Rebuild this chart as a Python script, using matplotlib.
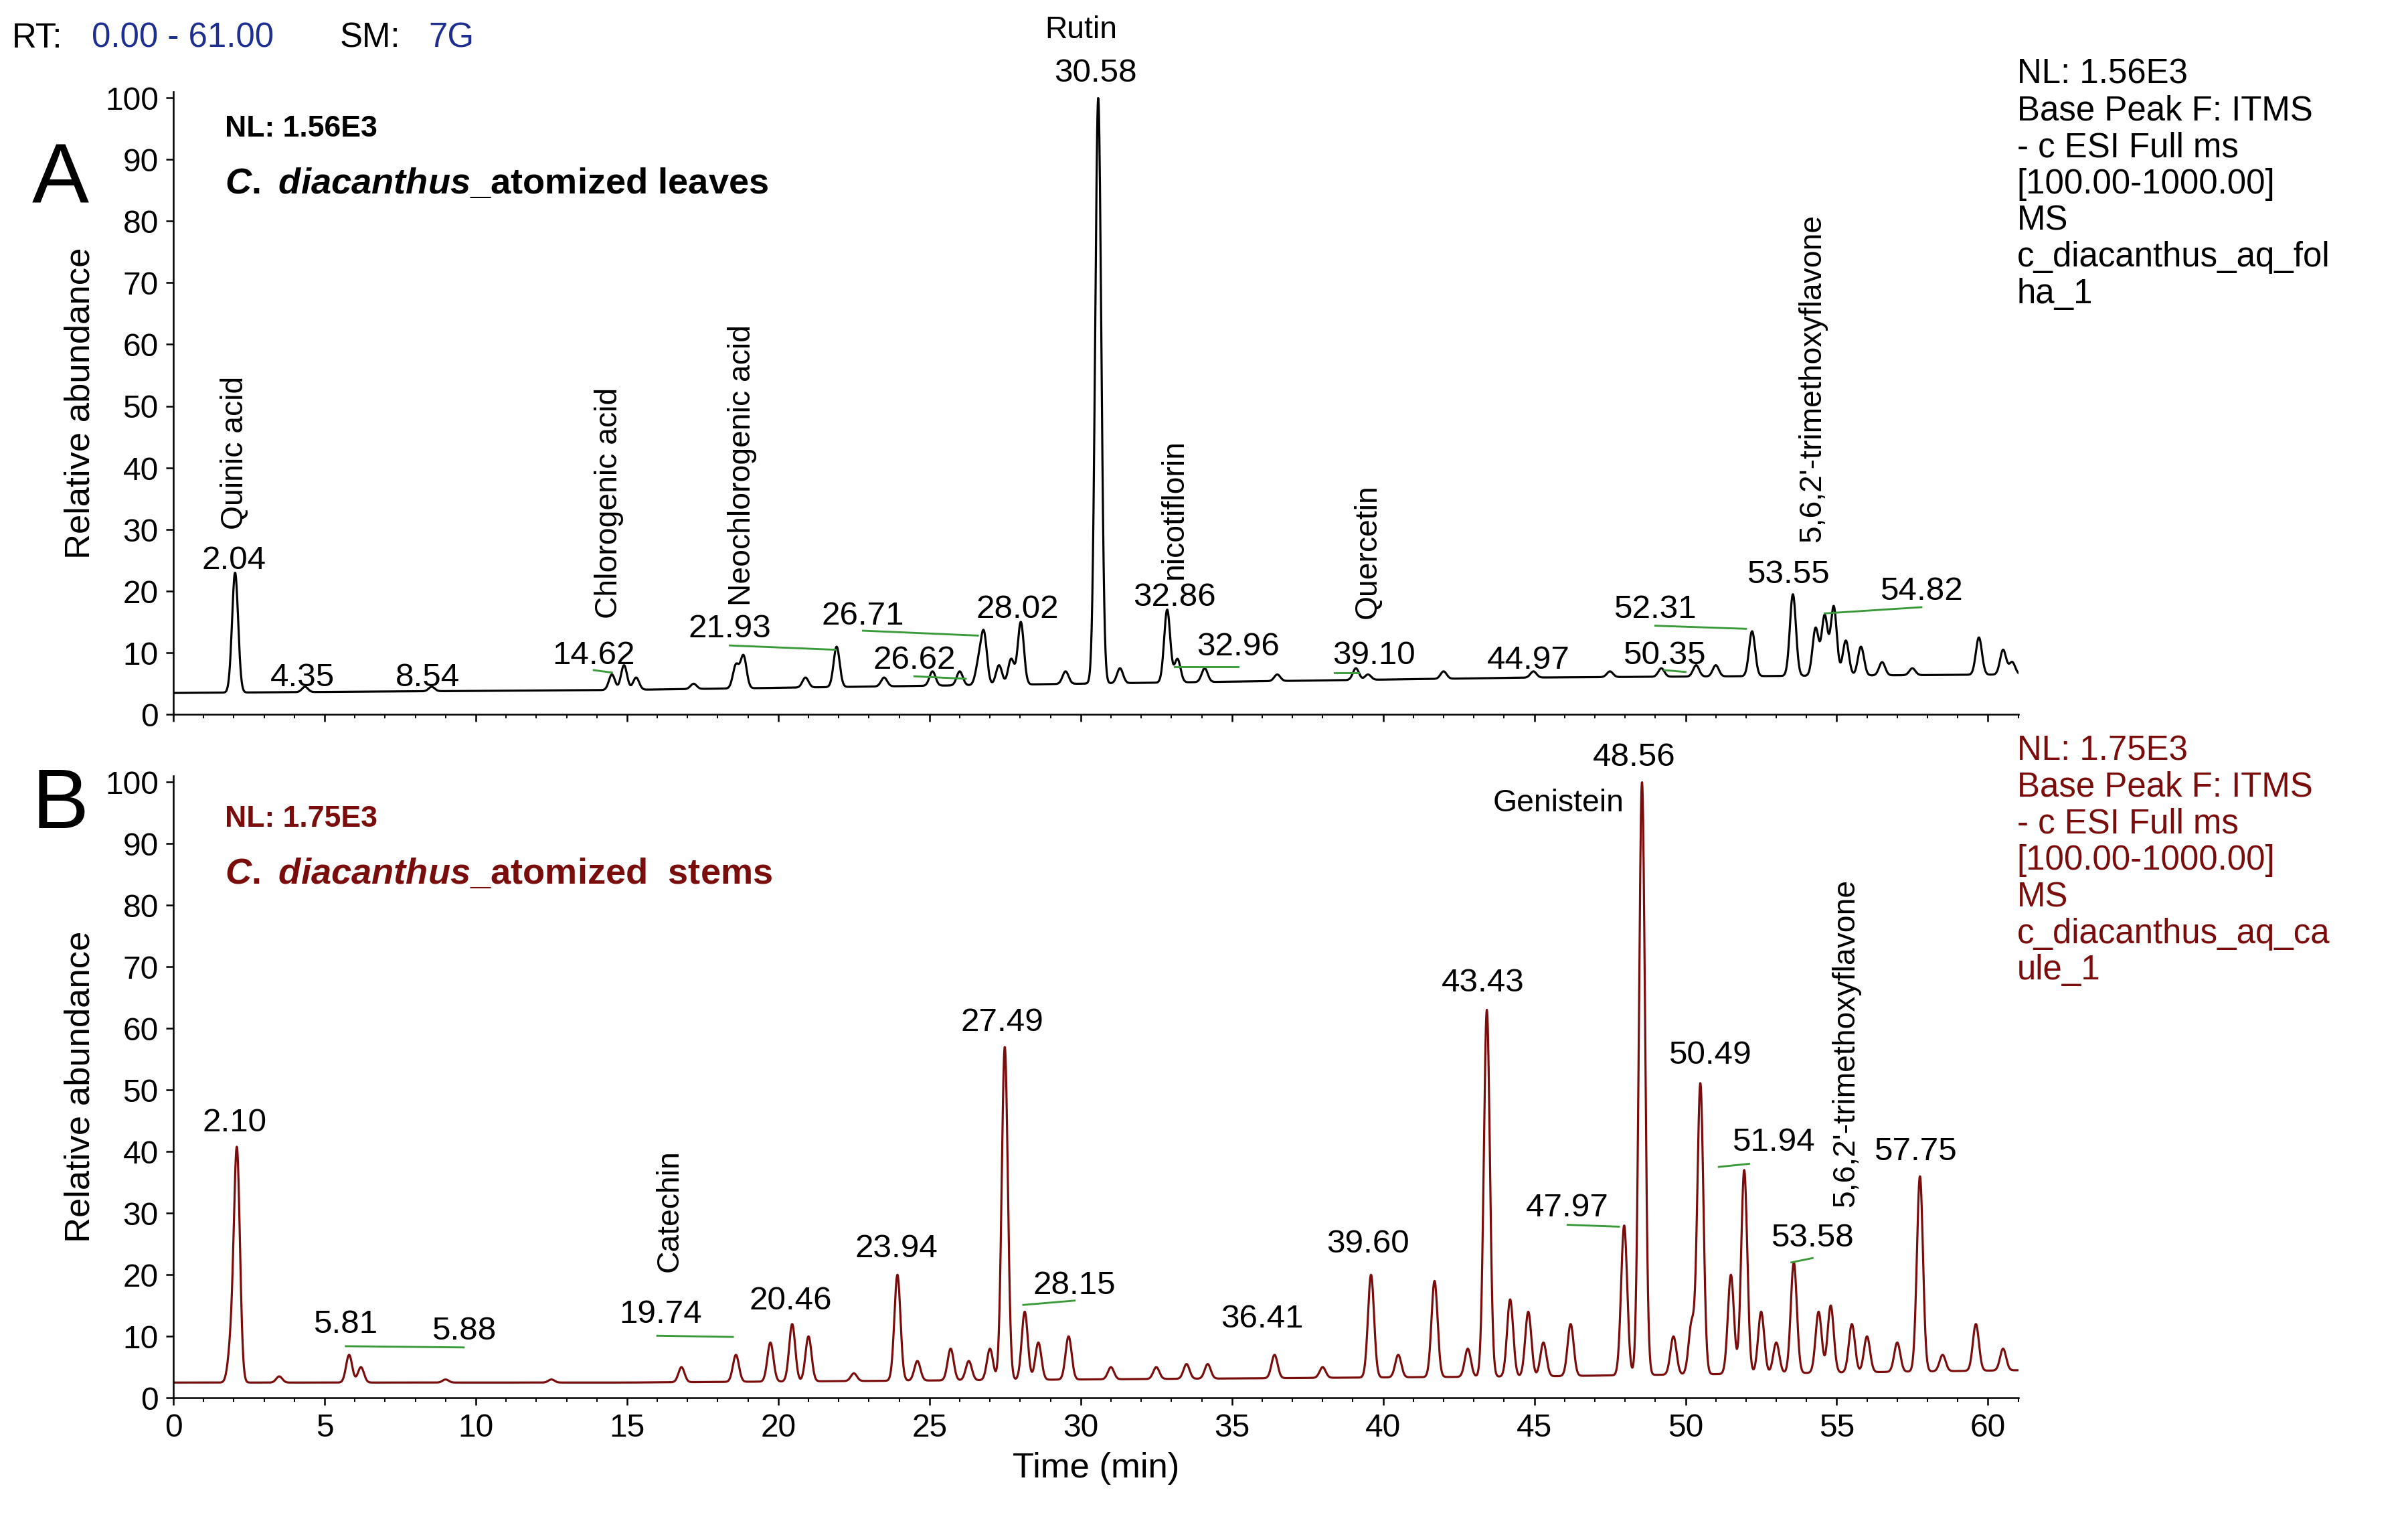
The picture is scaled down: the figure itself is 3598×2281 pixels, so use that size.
import numpy as np
import matplotlib
matplotlib.use("Agg")
import matplotlib.pyplot as plt

plt.rcParams['font.family'] = ['Liberation Sans', 'DejaVu Sans']
plt.rcParams['mathtext.fontset'] = 'custom'
plt.rcParams['mathtext.it'] = 'Liberation Sans:italic:bold'
plt.rcParams['mathtext.rm'] = 'Liberation Sans:bold'

# ---- data ----
a_rt = [2.04, 4.35, 8.54, 14.5, 14.9, 15.3, 17.2, 18.6, 18.85, 20.9, 21.93, 23.5, 25.1, 26.0, 26.62, 26.8, 27.3, 27.7, 28.02,
        29.5, 30.58, 31.3, 32.86, 33.2, 34.1, 36.5, 39.10, 39.5, 42.0, 44.97, 47.5, 49.2, 50.35, 51.0, 52.2, 53.55, 54.3, 54.6,
        54.9, 55.3, 55.8, 56.5, 57.5, 59.7, 60.5, 60.8]
a_ab = [23, 4.5, 4.5, 6.5, 8, 6, 5, 8, 9.5, 6, 11, 6, 7, 7, 8, 13, 8, 9, 15,
        7, 100, 7.5, 17, 9, 7.5, 6.5, 7.5, 6.5, 7, 7, 7, 7.5, 8, 8, 13.5, 19.5, 14, 16,
        17.5, 12, 11, 8.5, 7.5, 12.5, 10.5, 8.5]
a_base = [3.5, 4.0, 5.0, 6.0, 6.5]
b_rt = [1.9, 2.10, 3.5, 5.81, 6.2, 9.0, 12.5, 16.8, 18.6, 19.74, 20.46, 21.0, 22.5, 23.94, 24.6, 25.7, 26.3, 27.0, 27.49, 28.15,
        28.6, 29.6, 31.0, 32.5, 33.5, 34.2, 36.41, 38.0, 39.60, 40.5, 41.7, 42.8, 43.43, 44.2, 44.8, 45.3, 46.2, 47.97, 48.56,
        49.6, 50.2, 50.49, 51.5, 51.94, 52.5, 53.0, 53.58, 54.4, 54.8, 55.5, 56.0, 57.0, 57.75, 58.5, 59.6, 60.5]
b_ab = [8, 40, 3.5, 7, 5, 3, 3, 5, 7, 9, 12, 10, 4, 20, 6, 8, 6, 8, 57, 14,
        9, 10, 5, 5, 5.5, 5.5, 7, 5, 20, 7, 19, 8, 63, 16, 14, 9, 12, 28, 100,
        10, 12, 51, 20, 37, 14, 9, 22, 14, 15, 12, 10, 9, 36, 7, 12, 8]
b_base = [2.5, 2.5, 3.0, 3.5, 4.5]

a_nums = [("2.04", 2.0, 25), ("4.35", 4.26, 6), ("8.54", 8.4, 6), ("14.62", 13.9, 9.6), ("21.93", 18.4, 13.9),
          ("26.71", 22.8, 16), ("26.62", 24.5, 8.8), ("28.02", 27.9, 17), ("30.58", 30.5, 104), ("32.86", 33.1, 19),
          ("32.96", 35.2, 11), ("39.10", 39.7, 9.6), ("44.97", 44.8, 8.8), ("52.31", 49.0, 17), ("50.35", 49.3, 9.6),
          ("53.55", 53.4, 22.7), ("54.82", 57.8, 20)]
a_links = [((13.9, 7.2), (14.5, 6.8)), ((18.4, 11.2), (21.9, 10.5)), ((22.8, 13.6), (26.6, 12.8)),
           ((24.5, 6.2), (26.2, 5.8)), ((33.1, 7.8), (35.2, 7.8)), ((38.4, 6.8), (39.2, 6.8)),
           ((49.0, 14.4), (52.0, 13.9)), ((49.3, 7.2), (50.0, 6.9)), ((54.6, 16.4), (57.8, 17.4))]
a_names = [("Quinic acid", 2.04, 30), ("Chlorogenic acid", 14.4, 15.6), ("Neochlorogenic acid", 18.8, 17.6),
           ("nicotiflorin", 33.1, 22), ("Quercetin", 39.5, 15.6), ("5,6,2'-trimethoxyflavone", 54.2, 28)]
b_nums = [("2.10", 2.03, 44.7), ("5.81", 5.68, 11.9), ("5.88", 9.6, 10.9), ("19.74", 16.1, 13.6), ("20.46", 20.4, 15.8),
          ("23.94", 23.9, 24.2), ("27.49", 27.4, 61), ("28.15", 29.8, 18.3), ("36.41", 36.0, 12.8), ("39.60", 39.5, 25),
          ("43.43", 43.3, 67.4), ("47.97", 46.1, 30.9), ("48.56", 48.3, 104), ("50.49", 50.8, 55.6),
          ("51.94", 52.9, 41.5), ("53.58", 54.2, 26), ("57.75", 57.6, 40)]
b_links = [((5.7, 8.4), (9.6, 8.2)), ((16.0, 10.1), (18.5, 9.9)), ((28.1, 15.1), (29.8, 15.8)),
           ((46.1, 28.1), (47.8, 27.8)), ((51.1, 37.5), (52.1, 38.0)), ((53.5, 22.0), (54.2, 22.7))]
b_names = [("Genistein", 45.8, 96.5), ]
b_rot = [("Catechin", 16.4, 20.5), ("5,6,2'-trimethoxyflavone", 55.3, 31)]

DARK = "#7a0c0c"
t = np.linspace(0, 61, 6000)


def trace(rts, abs_, base):
    y = np.interp(t, [0, 15, 30, 45, 61], base)
    for r, h in zip(rts, abs_):
        b0 = np.interp(r, [0, 15, 30, 45, 61], base)
        w = 0.1
        y = y + (h - b0) * np.exp(-0.5 * ((t - r) / w) ** 2)
    return y


fig = plt.figure(figsize=(15.68, 9.94), dpi=229.5)
fs = 15.5
axA = fig.add_axes([0.072, 0.532, 0.766, 0.408])
axB = fig.add_axes([0.072, 0.0845, 0.766, 0.4075])

for ax, rts, abs_, base, col in [(axA, a_rt, a_ab, a_base, "black"), (axB, b_rt, b_ab, b_base, DARK)]:
    ax.plot(t, trace(rts, abs_, base), color=col, lw=1.0)
    ax.set_xlim(0, 61)
    ax.set_ylim(0, 101)
    ax.set_yticks(range(0, 101, 10))
    ax.set_ylabel("Relative abundance", fontsize=16.5)
    ax.spines["top"].set_visible(False)
    ax.spines["right"].set_visible(False)
    ax.tick_params(labelsize=15)
    ax.set_xticks(range(0, 61, 5))
    ax.xaxis.set_minor_locator(matplotlib.ticker.MultipleLocator(1))

axA.tick_params(axis="x", labelbottom=False)
axB.set_xlabel("Time (min)", fontsize=16.5)

for ax, nums, links in [(axA, a_nums, a_links), (axB, b_nums, b_links)]:
    for s, x, y in nums:
        ax.text(x, y, s, fontsize=fs, ha="center", va="center", clip_on=False)
    for (p, q) in links:
        ax.plot([p[0], q[0]], [p[1], q[1]], color="#3a9a3a", lw=0.9)
for s, x, y in a_names:
    axA.text(x, y, s, rotation=90, fontsize=14.5, ha="center", va="bottom")
for s, x, y in b_rot:
    axB.text(x, y, s, rotation=90, fontsize=14.5, ha="center", va="bottom")
for s, x, y in b_names:
    axB.text(x, y, s, fontsize=14.5, ha="center", va="center")
axA.text(30.0, 111, "Rutin", fontsize=14.5, ha="center", va="center", clip_on=False)

axA.text(1.7, 95, "NL: 1.56E3", fontsize=14, fontweight="bold", va="center")
axA.text(1.7, 86, "$\\it{C.\\ diacanthus}$_atomized leaves", fontsize=17, fontweight="bold", va="center")
axB.text(1.7, 94, "NL: 1.75E3", fontsize=14, fontweight="bold", va="center", color=DARK)
axB.text(1.7, 85, "$\\it{C.\\ diacanthus}$_atomized  stems", fontsize=17, fontweight="bold", va="center", color=DARK)
fig.text(0.025, 0.882, "A", fontsize=40, va="center", ha="center")
fig.text(0.025, 0.472, "B", fontsize=40, va="center", ha="center")

fig.text(0.005, 0.975, "RT:", fontsize=16, va="center")
fig.text(0.038, 0.975, "0.00 - 61.00", fontsize=16, va="center", color="#1f2f8f")
fig.text(0.141, 0.975, "SM:", fontsize=16, va="center")
fig.text(0.178, 0.975, "7G", fontsize=16, va="center", color="#1f2f8f")

infoA = "NL: 1.56E3\nBase Peak F: ITMS\n- c ESI Full ms\n[100.00-1000.00]\nMS\nc_diacanthus_aq_fol\nha_1"
infoB = "NL: 1.75E3\nBase Peak F: ITMS\n- c ESI Full ms\n[100.00-1000.00]\nMS\nc_diacanthus_aq_ca\nule_1"
fig.text(0.8375, 0.962, infoA, fontsize=16, va="top", linespacing=1.15)
fig.text(0.8375, 0.519, infoB, fontsize=16, va="top", linespacing=1.15, color=DARK)

fig.savefig("out.png", dpi=229.5)
